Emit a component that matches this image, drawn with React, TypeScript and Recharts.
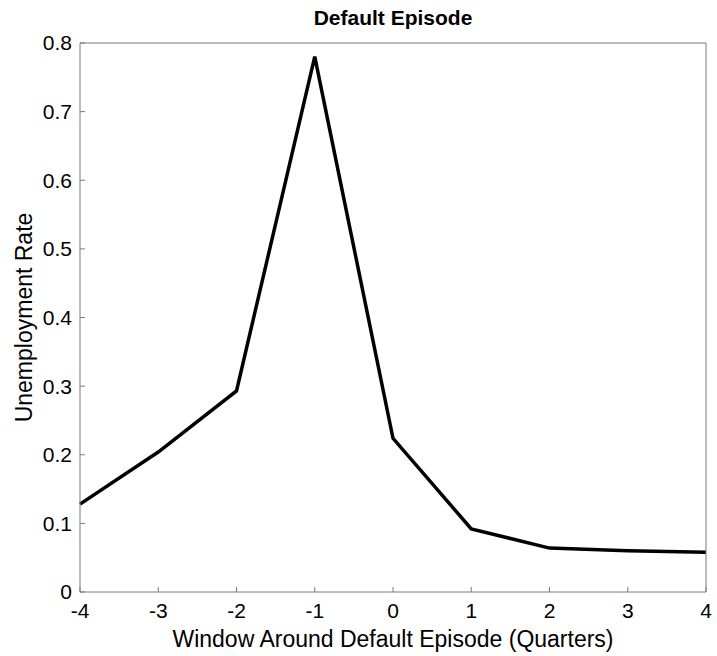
import React from "react";
import { LineChart, Line, XAxis, YAxis, Label } from "recharts";

const quarters = [-4, -3, -2, -1, 0, 1, 2, 3, 4];
const unemployment = [0.128, 0.204, 0.293, 0.78, 0.224, 0.092, 0.064, 0.06, 0.058];
const yTicks = [0, 0.1, 0.2, 0.3, 0.4, 0.5, 0.6, 0.7, 0.8];

const data = quarters.map((q, i) => ({ q, rate: unemployment[i] }));

const font = "Arial, 'Liberation Sans', Helvetica, sans-serif";
const axisGray = "#7a7a7a";

function XTitle({ viewBox }: any) {
  const { x, y, width } = viewBox;
  return (
    <text x={x + width / 2} y={y + 55} textAnchor="middle" fill="#000" fontSize={23} fontFamily={font}>
      Window Around Default Episode (Quarters)
    </text>
  );
}

function YTitle({ viewBox }: any) {
  const { x, y, height } = viewBox;
  const cx = x - 47;
  const cy = y + height / 2;
  return (
    <text
      x={cx}
      y={cy}
      transform={`rotate(-90, ${cx}, ${cy})`}
      textAnchor="middle"
      fill="#000"
      fontSize={23}
      fontFamily={font}
    >
      Unemployment Rate
    </text>
  );
}

export default function App() {
  return (
    <div style={{ position: "absolute", left: 0, top: 0, width: 717, height: 656, background: "#fff" }}>
      <div
        style={{
          position: "absolute",
          top: 6,
          left: 80,
          width: 626,
          textAlign: "center",
          fontFamily: font,
          fontWeight: "bold",
          fontSize: 21,
          lineHeight: "24px",
          color: "#000",
        }}
      >
        Default Episode
      </div>
      <LineChart
        width={717}
        height={656}
        data={data}
        margin={{ top: 42, right: 10, bottom: 63, left: 79 }}
        style={{ fontFamily: font }}
      >
        <XAxis
          dataKey="q"
          type="number"
          domain={[-4, 4]}
          ticks={quarters}
          interval={0}
          height={1}
          tickSize={-5}
          tickMargin={16}
          stroke={axisGray}
          tick={{ fill: "#000", fontSize: 21 }}
        >
          <Label content={XTitle} />
        </XAxis>
        <XAxis
          xAxisId="top"
          dataKey="q"
          type="number"
          orientation="top"
          domain={[-4, 4]}
          ticks={quarters}
          interval={0}
          height={1}
          tickSize={-5}
          tick={false}
          stroke={axisGray}
        />
        <YAxis
          type="number"
          domain={[0, 0.8]}
          ticks={yTicks}
          interval={0}
          width={1}
          tickSize={-5}
          tickMargin={13}
          stroke={axisGray}
          tickFormatter={(v: number) => (v === 0 ? "0" : String(v))}
          tick={{ fill: "#000", fontSize: 21 }}
        >
          <Label content={YTitle} />
        </YAxis>
        <YAxis
          yAxisId="right"
          type="number"
          orientation="right"
          domain={[0, 0.8]}
          ticks={yTicks}
          interval={0}
          width={1}
          tickSize={-5}
          tick={false}
          stroke={axisGray}
        />
        <Line
          type="linear"
          dataKey="rate"
          stroke="#000"
          strokeWidth={3.5}
          dot={false}
          isAnimationActive={false}
        />
      </LineChart>
    </div>
  );
}
